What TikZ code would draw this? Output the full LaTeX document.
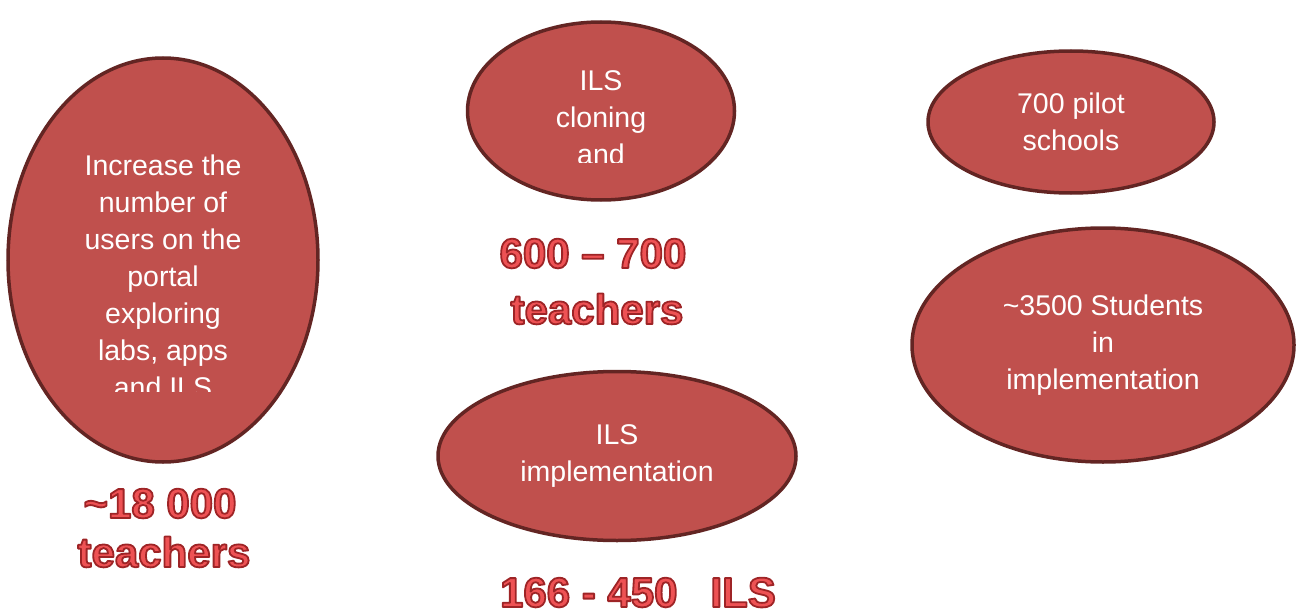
\documentclass[tikz,border=0pt]{standalone}
\usepackage{fontspec}
\setmainfont{Liberation Sans}
\usetikzlibrary{shapes.geometric,positioning}

\definecolor{bubblefill}{RGB}{192,80,77}
\definecolor{bubbleline}{RGB}{99,37,35}
\definecolor{countred}{RGB}{238,82,84}

% outlined text: fill and stroke the glyphs, dark red stroke
\newcommand{\outlined}[1]{%
  \special{pdf:code q 2 Tr 1.8 w 1 j 0.62 0.14 0.15 RG}#1\special{pdf:code Q}}

\begin{document}
\begin{tikzpicture}[
  x=1pt, y=-1pt,
  bubble/.style={ellipse, draw=bubbleline, fill=bubblefill, line width=3.5pt,
    inner sep=0pt, text=white, align=center,
    font=\fontsize{28.5}{37}\selectfont},
  bubbletext/.style={inner sep=0pt, text=white, align=center,
    font=\fontsize{28.5}{37}\selectfont},
  count/.style={inner sep=0pt, anchor=base, text=countred,
    font=\fontsize{42}{42}\bfseries\selectfont}
]
\useasboundingbox (0,0) rectangle (1298,615);

% Ellipses
\node[bubble, minimum width=310pt, minimum height=404pt] (users) at (163,260) {};
\node[bubble, minimum width=267pt, minimum height=178pt] (cloning) at (601,111) {};
\node[bubble, minimum width=358pt, minimum height=169pt] (impl) at (617,456)
  {ILS\\implementation};
\node[bubble, minimum width=286pt, minimum height=142pt] (pilot) at (1071,122)
  {700 pilot\\schools};
\node[bubble, minimum width=382pt, minimum height=234pt] (students) at (1103,345)
  {\textasciitilde3500 Students\\in\\implementation};

% Text that overflows its ellipse is cut off
\begin{scope}
  \clip (0,0) rectangle (330,391);
  \node[bubbletext] (userstext) at (163,276)
    {Increase the\\number of\\users on the\\portal\\exploring\\labs, apps\\and ILS};
\end{scope}
\begin{scope}
  \clip (460,0) rectangle (740,162);
  \node[bubbletext] (cloningtext) at (601,118) {ILS\\cloning\\and};
\end{scope}

% Counts below the ellipses
\node[count] (usersnum) at (160,518) {\outlined{\textasciitilde18 000}};
\node[count] (usersunit) at (164,567) {\outlined{teachers}};
\node[count] (cloningnum) at (593,268) {\outlined{600 -- 700}};
\node[count] (cloningunit) at (597,324) {\outlined{teachers}};
\node[count] (implnum) at (638,607) {\outlined{166 - 450\hspace{33pt}ILS}};

\end{tikzpicture}
\end{document}
